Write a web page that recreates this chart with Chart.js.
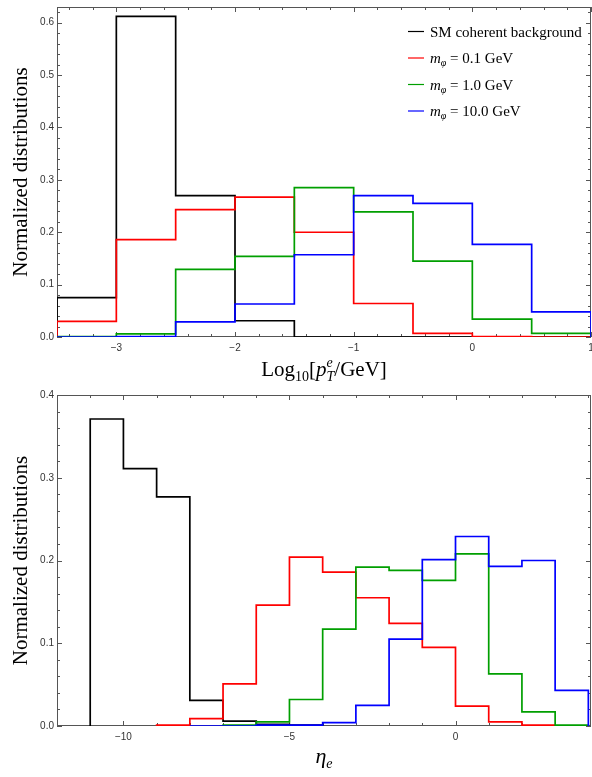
<!DOCTYPE html>
<html><head><meta charset="utf-8">
<script src="https://cdn.jsdelivr.net/npm/chart.js@4.4.0/dist/chart.umd.min.js"></script>
<style>
html,body{margin:0;padding:0;background:#fff;}
#wrap{position:relative;width:592px;height:777px;overflow:hidden;}
canvas{position:absolute;left:0;}
</style></head><body>
<div id="wrap">
<canvas id="c1" width="592" height="385" style="top:0"></canvas>
<canvas id="c2" width="592" height="392" style="top:385px"></canvas>
</div>
<script>
// ---------- data ----------
const seriesLabels = ['SM coherent background', 'm_φ = 0.1 GeV', 'm_φ = 1.0 GeV', 'm_φ = 10.0 GeV'];
const seriesColors = ['#000000', '#ff0000', '#009f00', '#0000ff'];
const massLabels = ['0.1', '1.0', '10.0'];

// Panel 1: Log10[pT/GeV], bins of 0.5 starting at -3.5
const ptBinStart = -3.5;
const ptBinWidth = 0.5;
const ptSM    = [0.075, 0.612, 0.270, 0.031, 0.000, 0.000, 0.000, 0.000, 0.000];
const ptM01   = [0.030, 0.186, 0.243, 0.267, 0.200, 0.064, 0.007, 0.001, 0.000];
const ptM1    = [0.001, 0.006, 0.129, 0.154, 0.285, 0.239, 0.145, 0.034, 0.007];
const ptM10   = [0.000, 0.001, 0.029, 0.063, 0.157, 0.270, 0.255, 0.177, 0.048];

// Panel 2: eta_e, bins of 1 (each series has its own first bin edge)
const etaBinWidth = 1;
const etaSMStart = -11;
const etaSM   = [0.371, 0.311, 0.277, 0.031, 0.006, 0.002, 0.001];
const etaM01Start = -9;
const etaM01  = [0.001, 0.009, 0.051, 0.146, 0.204, 0.186, 0.155, 0.124, 0.095, 0.024, 0.005, 0.001];
const etaM1Start = -7;
const etaM1   = [0.001, 0.005, 0.032, 0.117, 0.192, 0.188, 0.176, 0.208, 0.063, 0.017, 0.001];
const etaM10Start = -8;
const etaM10  = [0.000, 0.000, 0.001, 0.001, 0.004, 0.025, 0.105, 0.201, 0.229, 0.193, 0.200, 0.043];

const yTitle = 'Normalized distributions';

// ---------- helpers ----------
const serif = '"Liberation Serif", "Times New Roman", serif';
const sans = '"Liberation Sans", Arial, sans-serif';

function stepPoints(start, width, values) {
  const pts = [{x: start, y: 0}];
  values.forEach((v, i) => pts.push({x: start + i * width, y: v}));
  const end = start + values.length * width;
  pts.push({x: end, y: values[values.length - 1]});
  pts.push({x: end, y: 0});
  return pts;
}

function fmtMinus(v) {
  if (Math.abs(v) < 1e-9) return '0';
  return v < 0 ? '\u2212' + Math.abs(v) : String(v);
}

function richWidth(ctx, parts) {
  let w = 0;
  for (const p of parts) {
    if (p.stack) {
      let m = 0;
      for (const s of p.stack) { ctx.font = s.font; m = Math.max(m, ctx.measureText(s.t).width); }
      w += m;
    } else { ctx.font = p.font; w += ctx.measureText(p.t).width; }
  }
  return w;
}
function drawRich(ctx, parts, x, y, align) {
  const w = richWidth(ctx, parts);
  let cx = align === 'center' ? x - w / 2 : x;
  ctx.textAlign = 'left';
  ctx.textBaseline = 'alphabetic';
  for (const p of parts) {
    if (p.stack) {
      let m = 0;
      for (const s of p.stack) {
        ctx.font = s.font;
        ctx.fillText(s.t, cx, y + (s.dy || 0));
        m = Math.max(m, ctx.measureText(s.t).width);
      }
      cx += m;
    } else {
      ctx.font = p.font;
      ctx.fillText(p.t, cx, y + (p.dy || 0));
      cx += ctx.measureText(p.t).width;
    }
  }
}

function makeDatasets(list) {
  return list.map((pts, i) => ({
    label: seriesLabels[i],
    data: pts,
    borderColor: seriesColors[i],
    backgroundColor: seriesColors[i],
    borderWidth: 1.7,
    pointRadius: 0,
    stepped: 'before',
    fill: false,
    tension: 0,
    order: 4 - i
  }));
}

// frame + inward ticks, axis titles, legend
const framePlugin = {
  id: 'frame',
  beforeDatasetsDraw(chart, args, opts) {
    const {ctx, chartArea: a, scales} = chart;
    const xs = scales.x, ys = scales.y;
    ctx.save();
    ctx.strokeStyle = '#555';
    ctx.lineWidth = 1;
    ctx.strokeRect(a.left + 0.5, a.top + 0.5, a.right - a.left - 1, a.bottom - a.top - 1);
    const tick = (vals, isX) => {
      vals.forEach(([v, major]) => {
        const len = major ? 5 : 3;
        ctx.beginPath();
        if (isX) {
          const p = Math.round(xs.getPixelForValue(v)) + 0.5;
          ctx.moveTo(p, a.bottom); ctx.lineTo(p, a.bottom - len);
          ctx.moveTo(p, a.top); ctx.lineTo(p, a.top + len);
        } else {
          const p = Math.round(ys.getPixelForValue(v)) + 0.5;
          ctx.moveTo(a.left, p); ctx.lineTo(a.left + len, p);
          ctx.moveTo(a.right, p); ctx.lineTo(a.right - len, p);
        }
        ctx.stroke();
      });
    };
    const gen = (min, max, minor, major) => {
      const out = [];
      const k0 = Math.ceil(min / minor - 1e-6), k1 = Math.floor(max / minor + 1e-6);
      for (let k = k0; k <= k1; k++) {
        const v = k * minor;
        const r = v / major;
        out.push([v, Math.abs(r - Math.round(r)) < 1e-6]);
      }
      return out;
    };
    tick(gen(xs.min, xs.max, opts.xMinor, opts.xMajor), true);
    tick(gen(ys.min, ys.max, opts.yMinor, opts.yMajor), false);
    ctx.restore();
  },
  afterDraw(chart, args, opts) {
    const {ctx, chartArea: a} = chart;
    ctx.save();
    ctx.fillStyle = '#000';
    // y title
    ctx.translate(opts.yTitleX, (a.top + a.bottom) / 2);
    ctx.rotate(-Math.PI / 2);
    ctx.font = `21px ${serif}`;
    ctx.textAlign = 'center';
    ctx.textBaseline = 'middle';
    ctx.fillText(yTitle, 0, 0);
    ctx.setTransform(1, 0, 0, 1, 0, 0);
    drawRich(ctx, opts.xTitle, (a.left + a.right) / 2, opts.xTitleY, 'center');
    if (opts.legend) {
      const L = opts.legend;
      seriesLabels.forEach((lab, i) => {
        const y = L.y0 + i * L.dy;
        ctx.strokeStyle = seriesColors[i];
        ctx.lineWidth = 1.2;
        ctx.beginPath(); ctx.moveTo(L.x0, y); ctx.lineTo(L.x0 + 16, y); ctx.stroke();
        ctx.fillStyle = '#000';
        let parts;
        if (i === 0) parts = [{t: lab, font: `15px ${serif}`}];
        else parts = [
          {t: 'm', font: `italic 15px ${serif}`},
          {t: 'φ', font: `italic 10px ${serif}`, dy: 3},
          {t: ' = ' + massLabels[i - 1] + ' GeV', font: `15px ${serif}`}
        ];
        drawRich(ctx, parts, L.x0 + 22, y + 5, 'left');
      });
    }
    ctx.restore();
  }
};

function makeChart(id, datasets, xmin, xmax, xstep, ymax, xScaleH, padTop, pluginOpts) {
  return new Chart(document.getElementById(id), {
    type: 'line',
    data: {datasets},
    plugins: [framePlugin],
    options: {
      responsive: false,
      animation: false,
      devicePixelRatio: 1,
      layout: {padding: {top: padTop, right: 1, left: 0, bottom: 0}},
      plugins: {legend: {display: false}, tooltip: {enabled: false}, frame: pluginOpts},
      scales: {
        x: {
          type: 'linear', min: xmin, max: xmax,
          grid: {display: false, drawTicks: false},
          border: {display: false},
          ticks: {stepSize: xstep, includeBounds: false, autoSkip: false, maxRotation: 0,
                  padding: 5, color: '#333', font: {family: sans, size: 10},
                  callback: v => fmtMinus(v)},
          afterFit: s => { s.height = xScaleH; s.paddingLeft = 0; s.paddingRight = 0; }
        },
        y: {
          type: 'linear', min: 0, max: ymax,
          grid: {display: false, drawTicks: false},
          border: {display: false},
          ticks: {stepSize: 0.1, includeBounds: false, autoSkip: false,
                  padding: 3, color: '#333', font: {family: sans, size: 10},
                  callback: v => v.toFixed(1)},
          afterFit: s => { s.width = 57; s.paddingTop = 0; s.paddingBottom = 0; }
        }
      }
    }
  });
}

const ds1 = makeDatasets([
  stepPoints(ptBinStart, ptBinWidth, ptSM),
  stepPoints(ptBinStart, ptBinWidth, ptM01),
  stepPoints(ptBinStart, ptBinWidth, ptM1),
  stepPoints(ptBinStart, ptBinWidth, ptM10)
]);
const ds2 = makeDatasets([
  stepPoints(etaSMStart, etaBinWidth, etaSM),
  stepPoints(etaM01Start, etaBinWidth, etaM01),
  stepPoints(etaM1Start, etaBinWidth, etaM1),
  stepPoints(etaM10Start, etaBinWidth, etaM10)
]);

makeChart('c1', ds1, -3.5, 1, 1, 0.63, 48, 7, {
  xMinor: 0.2, xMajor: 1, yMinor: 0.02, yMajor: 0.1,
  yTitleX: 21, xTitleY: 376,
  xTitle: [
    {t: 'Log', font: `21px ${serif}`},
    {t: '10', font: `14px ${serif}`, dy: 5},
    {t: '[', font: `21px ${serif}`},
    {t: 'p', font: `italic 21px ${serif}`},
    {stack: [{t: 'T', font: `italic 14px ${serif}`, dy: 5}, {t: 'e', font: `italic 14px ${serif}`, dy: -9}]},
    {t: '/GeV]', font: `21px ${serif}`}
  ],
  legend: {x0: 408, y0: 31.5, dy: 26.5}
});
makeChart('c2', ds2, -12, 4.08, 5, 0.4, 51, 10, {
  xMinor: 1, xMajor: 5, yMinor: 0.02, yMajor: 0.1,
  yTitleX: 21, xTitleY: 378,
  xTitle: [
    {t: 'η', font: `italic 22px ${serif}`},
    {t: 'e', font: `italic 14px ${serif}`, dy: 5}
  ]
});
</script>
</body></html>
